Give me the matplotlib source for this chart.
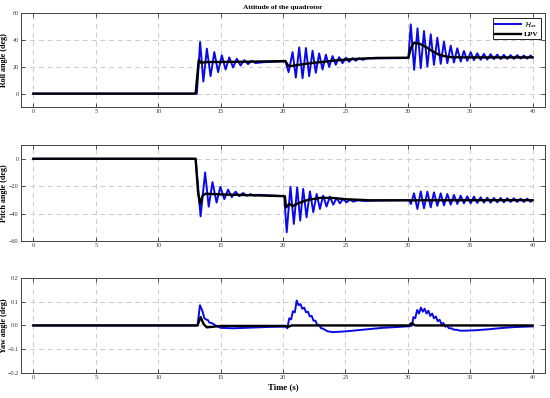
import matplotlib.pyplot as plt

# ---- data (time in s, angles in deg) ----
roll_hinf_t = [0, 13.1, 13.36, 13.62, 13.9, 14.2, 14.5, 14.8, 15.1, 15.4, 15.7, 16.0, 16.3,
               16.6, 16.9, 17.2, 17.5, 17.8, 18.5, 20.2, 20.45, 20.77, 21.03, 21.3, 21.57,
               21.84, 22.1, 22.37, 22.63, 22.9, 23.17, 23.44, 23.7, 23.97, 24.23, 24.5,
               24.77, 25.04, 25.3, 25.57, 25.83, 26.1, 26.4, 26.7, 27.2, 30.05,
               30.24, 30.51, 30.78, 31.04, 31.3, 31.57, 31.84, 32.1, 32.37, 32.64, 32.9,
               33.17, 33.44, 33.7, 33.97, 34.24, 34.5, 34.77, 35.04, 35.3, 35.57, 35.84,
               36.1, 36.37, 36.64, 36.9, 37.17, 37.44, 37.7, 37.97, 38.24, 38.5, 38.77,
               39.04, 39.3, 39.57, 39.84, 40.0]
roll_hinf_v = [0, 0, 38.5, 9, 33.5, 13, 31, 16, 28.5, 18, 27, 19.5, 26,
               21, 25, 22, 24.5, 22.8, 23.5, 24, 16, 31, 12, 34.5, 11.5,
               34, 13, 32, 15.5, 30, 18, 29, 20, 28, 21.5, 27.2,
               22.7, 26.8, 23.7, 26.5, 24.5, 26.3, 25.2, 26.2, 26.3, 26.5,
               51.6, 17.8, 48.7, 19, 46.7, 20.2, 44.2, 21.5, 41.7, 22.2, 38.7,
               22.7, 35.8, 23.2, 33.8, 23.9, 31.8, 24.4, 30.9, 25, 30.1, 25.2,
               29.6, 25.4, 29.4, 25.7, 29.1, 25.7, 28.9, 25.9, 28.7, 25.9, 28.7,
               26.1, 28.4, 26.1, 28.4, 27]
roll_lpv_t = [0, 13.0, 13.25, 13.45, 13.8, 17.0, 20.2, 20.4, 20.6, 21.5, 22.5, 23.5, 24.5,
              25.5, 26.5, 27.5, 30.05, 30.25, 30.5, 31.0, 31.5, 32.0, 32.5, 33.0, 33.5,
              34.5, 40.0]
roll_lpv_v = [0, 0, 25, 23, 23.5, 23.8, 24.3, 21, 20.5, 21.8, 23, 24, 25,
              25.7, 26.2, 26.6, 26.8, 34, 38, 37, 34.5, 31.5, 29, 27.8, 27.2,
              27, 27]

pitch_hinf_t = [0, 13.0, 13.4, 13.76, 14.05, 14.35, 14.68, 14.98, 15.3, 15.6, 15.9, 16.2,
                16.5, 16.8, 17.1, 17.4, 17.7, 18.0, 20.1, 20.3, 20.6, 20.87, 21.14, 21.38,
                21.62, 21.89, 22.16, 22.43, 22.7, 22.96, 23.22, 23.49, 23.76, 24.03, 24.3,
                24.56, 24.82, 25.09, 25.36, 25.63, 26.0, 26.5, 27.5, 30.1,
                30.25, 30.5, 30.77, 31.04, 31.3, 31.57, 31.84, 32.1, 32.37, 32.64, 32.9,
                33.17, 33.44, 33.7, 33.97, 34.24, 34.5, 34.77, 35.04, 35.3, 35.57, 35.84,
                36.1, 36.37, 36.64, 36.9, 37.17, 37.44, 37.7, 37.97, 38.24, 38.5, 38.77,
                39.04, 39.3, 39.57, 39.84, 40.0]
pitch_hinf_v = [0, 0, -42, -10, -35, -17, -32, -20.5, -29.5, -22.5, -28, -24,
                -27.3, -25, -27, -25.8, -26.8, -26.3, -27.2, -53.6, -20.4, -47.5, -20.9, -45.1,
                -22, -42.7, -23.8, -39, -25.7, -36.6, -26.9, -34.9, -27.6, -33.5, -28.6,
                -32.5, -29.3, -31.8, -29.8, -31.3, -30.3, -30.8, -30.5, -30.2,
                -33, -25.2, -36.6, -23.8, -36.1, -24, -35.4, -24.5, -34.4, -25.2, -34,
                -25.7, -33.5, -26.4, -33, -26.9, -32.5, -27.4, -32.5, -27.6, -32.2, -28.1,
                -32, -28.4, -32, -28.6, -31.8, -28.6, -31.8, -28.8, -31.5, -28.8, -31.5,
                -29.1, -31.5, -29.1, -31.4, -30.3]
pitch_lpv_t = [0, 13.0, 13.2, 13.35, 13.55, 13.8, 15.0, 20.15, 20.25, 20.5, 20.8, 21.2,
               22.0, 23.0, 24.0, 25.0, 27.0, 30.1, 40.0]
pitch_lpv_v = [0, 0, -25, -33, -27, -25.5, -26, -27.3, -35.5, -33, -34.5, -32.5,
               -30, -28.5, -28.6, -29.5, -30.3, -30.3, -30.2]

yaw_hinf_t = [0, 13.15, 13.35, 13.55, 13.7, 13.85, 14.0, 14.1, 14.3, 14.45, 14.6, 15.0, 16.0,
              17.0, 18.0, 19.0, 20.2, 20.35, 20.5, 20.65, 20.8, 20.95, 21.1, 21.25, 21.4,
              21.55, 21.7, 21.85, 22.0, 22.15, 22.3, 22.45, 22.6, 22.75, 22.9, 23.05,
              23.2, 23.4, 23.6, 24.0, 25.0, 26.0, 27.0, 28.0, 29.0, 30.2, 30.35, 30.45,
              30.6, 30.75, 30.9, 31.05, 31.2, 31.35, 31.5, 31.65, 31.8, 31.95, 32.1,
              32.25, 32.4, 32.55, 32.7, 32.85, 33.0, 33.15, 33.3, 33.5, 33.7, 33.9,
              34.2, 34.6, 35.5, 36.5, 37.5, 38.5, 40.0]
yaw_hinf_v = [0, 0, 0.085, 0.06, 0.03, 0.025, 0.022, 0.012, 0.01, 0.005, 0, -0.01, -0.012,
              -0.01, -0.008, -0.006, -0.005, -0.012, 0.03, 0.025, 0.06, 0.055, 0.105, 0.085, 0.09,
              0.07, 0.075, 0.055, 0.058, 0.038, 0.04, 0.02, 0.02, 0.002, 0.002, -0.012,
              -0.013, -0.02, -0.025, -0.028, -0.025, -0.02, -0.015, -0.01, -0.007, -0.003, 0.0, 0.035,
              0.03, 0.065, 0.05, 0.075, 0.058, 0.07, 0.05, 0.062, 0.04, 0.05, 0.03,
              0.038, 0.018, 0.024, 0.006, 0.01, -0.005, -0.002, -0.012, -0.012, -0.018, -0.018,
              -0.022, -0.022, -0.02, -0.016, -0.011, -0.007, -0.004]
yaw_lpv_t = [0, 13.15, 13.4, 13.65, 13.9, 14.3, 15.0, 20.2, 20.4, 20.7, 30.1, 30.3, 30.6, 40.0]
yaw_lpv_v = [0, 0, 0.035, 0.005, -0.008, -0.006, -0.002, -0.002, -0.006, 0.0, 0.0, 0.01, 0.0, 0.0]

x_ticks = [0, 5, 10, 15, 20, 25, 30, 35, 40]
roll_ticks = [0, 20, 40, 60]
pitch_ticks = [-60, -40, -20, 0]
yaw_ticks = [-0.2, -0.1, 0, 0.1, 0.2]

plt.rcParams['font.family'] = ['Liberation Serif', 'DejaVu Serif']
plt.rcParams['mathtext.fontset'] = 'stix'

BLUE = '#0a0ae6'

fig = plt.figure(figsize=(5.5, 3.98), dpi=100)
ax1 = fig.add_axes([0.038, 0.731, 0.953, 0.236])
ax2 = fig.add_axes([0.038, 0.3945, 0.953, 0.241])
ax3 = fig.add_axes([0.038, 0.0628, 0.953, 0.239])

panels = [
    (ax1, roll_hinf_t, roll_hinf_v, roll_lpv_t, roll_lpv_v, (-10, 60), roll_ticks, 'Roll angle (deg)'),
    (ax2, pitch_hinf_t, pitch_hinf_v, pitch_lpv_t, pitch_lpv_v, (-60, 10), pitch_ticks, 'Pitch angle (deg)'),
    (ax3, yaw_hinf_t, yaw_hinf_v, yaw_lpv_t, yaw_lpv_v, (-0.2, 0.2), yaw_ticks, 'Yaw angle (deg)'),
]

for ax, th, vh, tl, vl, ylim, yt, lab in panels:
    ax.plot(th, vh, color=BLUE, lw=1.4, label=r'$\mathcal{H}_\infty$')
    ax.plot(tl, vl, color='black', lw=1.7, label='LPV')
    ax.set_xlim(-1, 41)
    ax.set_ylim(*ylim)
    ax.set_xticks(x_ticks)
    ax.set_yticks(yt)
    ax.grid(True, linestyle=(0, (5, 4)), color='#cccccc', linewidth=0.7)
    ax.tick_params(direction='in', top=True, right=True, length=3, width=0.6,
                   labelsize=4.4, pad=1.5, colors='#333333')
    for s in ax.spines.values():
        s.set_color('#444444')
        s.set_linewidth(0.7)
    ax.set_ylabel(lab, fontsize=5.8, fontweight='bold')
    ax.yaxis.set_label_coords(-0.025, 0.5)

ax1.set_title('Attitude of the quadrotor', fontsize=5.3, fontweight='bold', pad=3)
ax3.set_xlabel('Time (s)', fontsize=6.3, fontweight='bold', labelpad=2)

leg = ax1.legend(loc='upper right', fontsize=5.3, frameon=True, fancybox=False,
                 edgecolor='black', framealpha=1, handlelength=3.5, borderpad=0.3,
                 labelspacing=0.2, handletextpad=0.4, borderaxespad=0.6)
leg.get_frame().set_linewidth(0.6)
for t in leg.get_texts():
    t.set_fontweight('bold')

fig.savefig('out.png', dpi=100)
